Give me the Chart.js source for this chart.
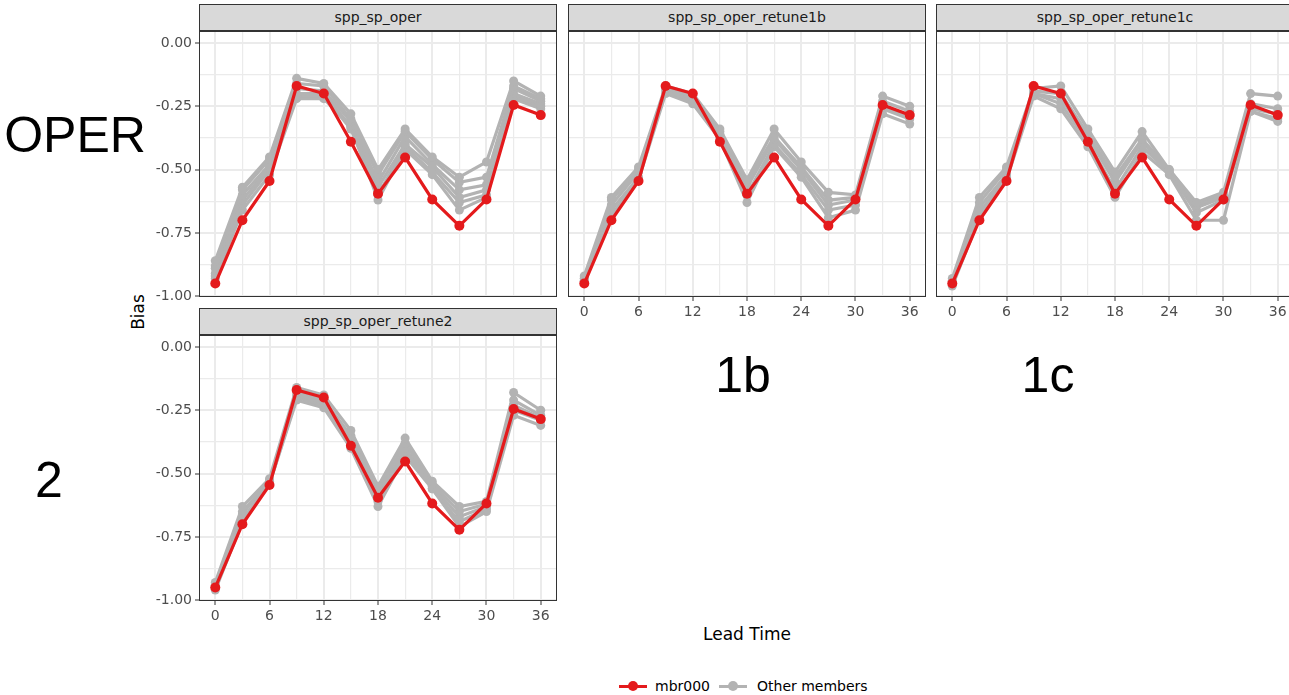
<!DOCTYPE html>
<html>
<head>
<meta charset="utf-8">
<script src="https://cdn.jsdelivr.net/npm/chart.js@4.4.0/dist/chart.umd.min.js"></script>
<style>
    html, body { margin: 0; padding: 0; overflow: hidden; }
    body { width: 1289px; height: 695px; position: relative; background: #fff; font-family: "DejaVu Sans", sans-serif; }
    canvas { position: absolute; }
    .strip { position: absolute; width: 358px; height: 27px; box-sizing: border-box; background: #d9d9d9; border: 1px solid #333; color: #1a1a1a; font-size: 14px; line-height: 25px; text-align: center; }
    .big { position: absolute; font-family: "Liberation Sans", Arial, sans-serif; font-size: 50px; color: #000; transform: translate(-50%, -50%); white-space: nowrap; }
    .axis-title { position: absolute; font-size: 17px; color: #000; transform: translate(-50%, -50%); white-space: nowrap; }
    #legend { position: absolute; left: 618px; top: 676px; font-size: 14px; color: #000; display: flex; align-items: center; }
    .key { position: relative; width: 30px; height: 20px; display: inline-block; }
    .key .ln { position: absolute; left: 1px; right: 1px; top: 8.5px; height: 3px; }
    .key .pt { position: absolute; left: 10px; top: 5px; width: 10px; height: 10px; border-radius: 50%; }
</style>
</head>
<body>
<div id="legend">
    <span class="key"><span class="ln" style="background:#e41a1c"></span><span class="pt" style="background:#e41a1c"></span></span>
    <span style="margin:0 8px 0 7px">mbr000</span>
    <span class="key"><span class="ln" style="background:#b3b3b3"></span><span class="pt" style="background:#b3b3b3"></span></span>
    <span style="margin-left:9px">Other members</span>
</div>
<div class="axis-title" style="left:138px; top:312px; transform:translate(-50%,-50%) rotate(-90deg)">Bias</div>
<div class="axis-title" style="left:747px; top:634px">Lead Time</div>
<div class="big" style="left:75px; top:135px">OPER</div>
<div class="big" style="left:743px; top:375px">1b</div>
<div class="big" style="left:1048px; top:375px">1c</div>
<div class="big" style="left:49px; top:480px">2</div>

<script>
// 横軸: Lead Time
const leadTimes = [0, 3, 6, 9, 12, 15, 18, 21, 24, 27, 30, 33, 36];

// mbr000 (全パネル共通)
const mbr000 = [-0.95, -0.70, -0.545, -0.17, -0.20, -0.39, -0.595, -0.452, -0.618, -0.722, -0.618, -0.245, -0.285];

// Other members (パネルごと)
const operMembers = [
    [-0.86, -0.57, -0.45, -0.14, -0.16, -0.28, -0.50, -0.34, -0.45, -0.53, -0.47, -0.15, -0.21],
    [-0.88, -0.58, -0.46, -0.16, -0.17, -0.30, -0.52, -0.35, -0.46, -0.55, -0.53, -0.17, -0.22],
    [-0.89, -0.60, -0.48, -0.18, -0.19, -0.31, -0.55, -0.37, -0.48, -0.58, -0.56, -0.18, -0.23],
    [-0.91, -0.62, -0.49, -0.20, -0.20, -0.33, -0.57, -0.40, -0.49, -0.61, -0.58, -0.20, -0.24],
    [-0.92, -0.64, -0.50, -0.21, -0.21, -0.34, -0.60, -0.41, -0.51, -0.63, -0.60, -0.21, -0.25],
    [-0.93, -0.66, -0.52, -0.22, -0.22, -0.33, -0.62, -0.42, -0.52, -0.66, -0.61, -0.22, -0.26]
];
const retune1bMembers = [
    [-0.92, -0.61, -0.49, -0.17, -0.20, -0.34, -0.54, -0.34, -0.47, -0.59, -0.60, -0.21, -0.25],
    [-0.93, -0.62, -0.50, -0.18, -0.21, -0.35, -0.55, -0.37, -0.49, -0.62, -0.61, -0.23, -0.27],
    [-0.93, -0.64, -0.51, -0.18, -0.22, -0.36, -0.57, -0.38, -0.50, -0.64, -0.62, -0.25, -0.29],
    [-0.94, -0.66, -0.53, -0.19, -0.23, -0.37, -0.60, -0.40, -0.52, -0.66, -0.64, -0.26, -0.30],
    [-0.94, -0.68, -0.54, -0.20, -0.24, -0.38, -0.63, -0.41, -0.53, -0.69, -0.66, -0.28, -0.32]
];
const retune1cMembers = [
    [-0.93, -0.61, -0.49, -0.18, -0.17, -0.34, -0.51, -0.35, -0.50, -0.63, -0.59, -0.20, -0.21],
    [-0.94, -0.63, -0.50, -0.19, -0.20, -0.36, -0.53, -0.38, -0.50, -0.64, -0.60, -0.24, -0.26],
    [-0.94, -0.65, -0.52, -0.20, -0.22, -0.37, -0.55, -0.39, -0.51, -0.65, -0.61, -0.26, -0.28],
    [-0.95, -0.67, -0.53, -0.20, -0.24, -0.39, -0.58, -0.41, -0.51, -0.67, -0.62, -0.27, -0.30],
    [-0.96, -0.69, -0.54, -0.21, -0.26, -0.41, -0.61, -0.43, -0.52, -0.70, -0.70, -0.27, -0.31]
];
const retune2Members = [
    [-0.93, -0.63, -0.52, -0.16, -0.19, -0.33, -0.55, -0.36, -0.53, -0.63, -0.61, -0.18, -0.25],
    [-0.94, -0.65, -0.53, -0.18, -0.21, -0.35, -0.57, -0.38, -0.54, -0.65, -0.62, -0.21, -0.27],
    [-0.95, -0.66, -0.53, -0.19, -0.22, -0.37, -0.59, -0.40, -0.55, -0.67, -0.63, -0.23, -0.28],
    [-0.95, -0.68, -0.54, -0.20, -0.23, -0.38, -0.61, -0.41, -0.56, -0.69, -0.64, -0.25, -0.29],
    [-0.96, -0.69, -0.54, -0.21, -0.24, -0.40, -0.63, -0.43, -0.56, -0.71, -0.65, -0.27, -0.31]
];

// 目盛り
const xTickValues = [0, 6, 12, 18, 24, 30, 36];
const yTickValues = [0, -0.25, -0.5, -0.75, -1];

// パネル配置
const panels = [
    { title: 'spp_sp_oper', members: operMembers, left: 199, top: 31, showX: false, showY: true },
    { title: 'spp_sp_oper_retune1b', members: retune1bMembers, left: 568, top: 31, showX: true, showY: false },
    { title: 'spp_sp_oper_retune1c', members: retune1cMembers, left: 936, top: 31, showX: true, showY: false },
    { title: 'spp_sp_oper_retune2', members: retune2Members, left: 199, top: 335, showX: true, showY: true }
];

const PANEL_W = 358, PANEL_H = 266, AXIS_W = 50, AXIS_H = 26, STRIP_H = 27, PAD = 20;

// 大目盛りの間に小目盛り(グリッドのみ)を入れる
function withMinor(majors) {
    const sorted = [...majors].sort((a, b) => a - b);
    const ticks = [];
    sorted.forEach((v, i) => {
        ticks.push({ value: v, major: true });
        if (i < sorted.length - 1) ticks.push({ value: (v + sorted[i + 1]) / 2, major: false });
    });
    return ticks;
}

// パネルの枠線
const borderPlugin = {
    id: 'panelBorder',
    afterDraw(chart) {
        const a = chart.chartArea;
        const ctx = chart.ctx;
        ctx.save();
        ctx.strokeStyle = '#333333';
        ctx.lineWidth = 1;
        ctx.strokeRect(a.left + 0.5, a.top + 0.5, a.right - a.left - 1, a.bottom - a.top - 1);
        ctx.restore();
    }
};

function gridWidth(ctx) {
    return ctx.tick && ctx.tick.major ? 2 : 1.2;
}

function drawPanel(p) {
    const strip = document.createElement('div');
    strip.className = 'strip';
    strip.style.left = p.left + 'px';
    strip.style.top = (p.top - STRIP_H) + 'px';
    strip.textContent = p.title;
    document.body.appendChild(strip);

    // キャンバスは上と右にPAD分の余白を持たせ、目盛り文字の分で描画領域が縮まないようにする
    const canvas = document.createElement('canvas');
    canvas.width = PANEL_W + AXIS_W + PAD;
    canvas.height = PANEL_H + AXIS_H + PAD;
    canvas.style.left = (p.left - AXIS_W) + 'px';
    canvas.style.top = (p.top - PAD) + 'px';
    document.body.appendChild(canvas);

    const datasets = [{
        label: 'mbr000',
        data: leadTimes.map((t, i) => ({ x: t, y: mbr000[i] })),
        borderColor: '#e41a1c',
        backgroundColor: '#e41a1c',
        borderWidth: 3.2,
        pointRadius: 5,
        pointBorderWidth: 0,
        tension: 0
    }];
    p.members.forEach((m, k) => {
        datasets.push({
            label: 'member' + (k + 1),
            data: leadTimes.map((t, i) => ({ x: t, y: m[i] })),
            borderColor: '#b3b3b3',
            backgroundColor: '#b3b3b3',
            borderWidth: 3.2,
            pointRadius: 4.5,
            pointBorderWidth: 0,
            tension: 0
        });
    });

    new Chart(canvas, {
        type: 'line',
        data: { datasets: datasets },
        options: {
            responsive: false,
            animation: false,
            devicePixelRatio: 1,
            layout: { padding: { top: PAD, right: PAD, left: 0, bottom: 0 } },
            plugins: { legend: { display: false }, tooltip: { enabled: false } },
            scales: {
                x: {
                    type: 'linear',
                    min: -1.8,
                    max: 37.8,
                    afterBuildTicks: (scale) => { scale.ticks = withMinor(xTickValues); },
                    afterFit: (scale) => { scale.height = AXIS_H; },
                    border: { display: false },
                    grid: {
                        color: '#ebebeb',
                        lineWidth: gridWidth,
                        tickLength: 4,
                        tickColor: (ctx) => (p.showX && ctx.tick && ctx.tick.major ? '#333333' : 'rgba(0,0,0,0)'),
                        tickWidth: 1
                    },
                    ticks: {
                        display: p.showX,
                        padding: 3,
                        maxRotation: 0,
                        autoSkip: false,
                        color: '#4d4d4d',
                        font: { family: 'DejaVu Sans', size: 14 },
                        callback: (v, i, ticks) => (ticks[i].major ? String(v) : '')
                    }
                },
                y: {
                    type: 'linear',
                    min: -1.003,
                    max: 0.047,
                    afterBuildTicks: (scale) => { scale.ticks = withMinor(yTickValues); },
                    afterFit: (scale) => { scale.width = AXIS_W; },
                    border: { display: false },
                    grid: {
                        color: '#ebebeb',
                        lineWidth: gridWidth,
                        tickLength: 4,
                        tickColor: (ctx) => (p.showY && ctx.tick && ctx.tick.major ? '#333333' : 'rgba(0,0,0,0)'),
                        tickWidth: 1
                    },
                    ticks: {
                        display: p.showY,
                        padding: 3,
                        autoSkip: false,
                        color: '#4d4d4d',
                        font: { family: 'DejaVu Sans', size: 14 },
                        callback: (v, i, ticks) => (ticks[i].major ? v.toFixed(2) : '')
                    }
                }
            }
        },
        plugins: [borderPlugin]
    });
}

panels.forEach(drawPanel);
</script>
</body>
</html>
